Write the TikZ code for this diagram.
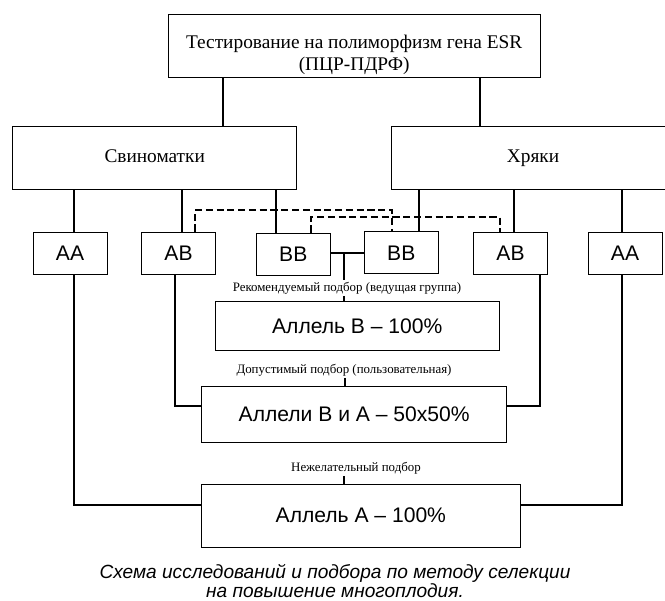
\documentclass[tikz,border=0pt]{standalone}
\usepackage{fontspec}
\setmainfont{Liberation Serif}
\setsansfont{Liberation Sans}
\tikzstyle{headbox}=[draw,line width=0.8pt,inner sep=0pt,align=center,font=\fontsize{16.5}{18.4}\selectfont]
\tikzstyle{groupbox}=[draw,line width=0.8pt,inner sep=0pt,minimum width=8.52cm,minimum height=1.9cm,text height=11pt,text depth=3.5pt,font=\fontsize{16.5}{18.4}\selectfont]
\tikzstyle{genobox}=[draw,line width=0.8pt,inner sep=0pt,minimum width=2.22cm,minimum height=1.26cm,text height=13pt,text depth=0pt,font=\sffamily\fontsize{18}{20}\selectfont]
\tikzstyle{allelebox}=[draw,line width=0.8pt,inner sep=0pt,text height=13pt,text depth=1pt,font=\sffamily\fontsize{18}{20}\selectfont]
\tikzstyle{pick}=[inner sep=1.5pt,font=\fontsize{11}{12}\selectfont]
\tikzstyle{link}=[line width=1.4pt]
\tikzstyle{mainlink}=[line width=2pt]
\tikzstyle{dashlink}=[line width=1.4pt,dash pattern=on 6pt off 3.2pt]

\begin{document}
\begin{tikzpicture}[x=0.03cm, y=-0.03cm]

   \useasboundingbox (0,0) rectangle (665,601);

   % testing and the two groups
   \node[headbox,minimum width=11.15cm,minimum height=1.91cm] (test) at (354.2,45.9) {\rule{0pt}{27pt}Тестирование на полиморфизм гена ESR\\(ПЦР-ПДРФ)};
   \node[groupbox] (sow) at (154.7,158.3) {Свиноматки};
   \node[groupbox] (boar) at (533,158.3) {Хряки};

    \foreach \pos/\name/\gen in {{(70,253)/aa1/AA}, {(178.5,253)/ab1/AB}, {(293.3,254)/bb1/BB}, {(401.3,252.5)/bb2/BB}, {(510.5,253)/ab2/AB}, {(625,253)/aa2/AA}}
        \node[genobox] (\name) at \pos {\gen};

   % results of the matings
   \node[allelebox,minimum width=8.52cm,minimum height=1.48cm] (alB) at (357.3,326.3) {Аллель B – 100\%};
   \node[allelebox,minimum width=9.15cm,minimum height=1.68cm] (alBA) at (354.2,414) {Аллели B и A – 50x50\%};
   \node[allelebox,minimum width=9.55cm,minimum height=1.89cm] (alA) at (360.9,515.8) {Аллель A – 100\%};

   \node[pick] (rec) at (347,288) {Рекомендуемый подбор (ведущая группа)};
   \node[pick] (adm) at (344,370) {Допустимый подбор (пользовательная)};
   \node[pick] (undes) at (356,468) {Нежелательный подбор};

    \foreach \x/\dest in {222.7/sow, 480/boar}
        \draw[mainlink] (test.south -| \x,0) -- (\dest.north -| \x,0);

    \foreach \x/\source/\dest in {74/sow/aa1, 182/sow/ab1, 276/sow/bb1, 418.7/boar/bb2, 513.7/boar/ab2, 621.7/boar/aa2}
        \draw[link] (\source.south -| \x,0) -- (\dest.north -| \x,0);

   \draw[dashlink] (ab1.north -| 195,0) |- (391.7,210) -- (bb2.north -| 391.7,0);
   \draw[dashlink] (bb1.north -| 310.7,0) |- (500,217.3) -- (ab2.north -| 500,0);

   % BB x BB
   \coordinate (bbmid) at (344.3,253.3);
   \draw[link] (bb1.east |- bbmid) -- (bb2.west |- bbmid);
   \draw[link] (bbmid) -- (bbmid |- rec.north);
   \draw[link] (bbmid |- rec.south) -- (bbmid |- alB.north);

   % AB x AB
   \draw[link] (ab1.south -| 174.7,0) |- (alBA.west |- 0,406);
   \draw[link] (ab2.south -| 540,0) |- (alBA.east |- 0,406);
   \draw[link] (adm.south -| 344.7,0) -- (alBA.north -| 344.7,0);

   % AA x AA
   \draw[link] (aa1.south -| 74,0) |- (alA.west |- 0,505);
   \draw[link] (aa2.south -| 621.7,0) |- (alA.east |- 0,505);
   \draw[link] (undes.south -| 344,0) -- (alA.north -| 344,0);

  \node[align=center,font=\sffamily\itshape\fontsize{16.3}{16}\selectfont] (note) at (335,581) {Схема исследований и подбора по методу селекции\\на повышение многоплодия.};

\end{tikzpicture}
\end{document}
